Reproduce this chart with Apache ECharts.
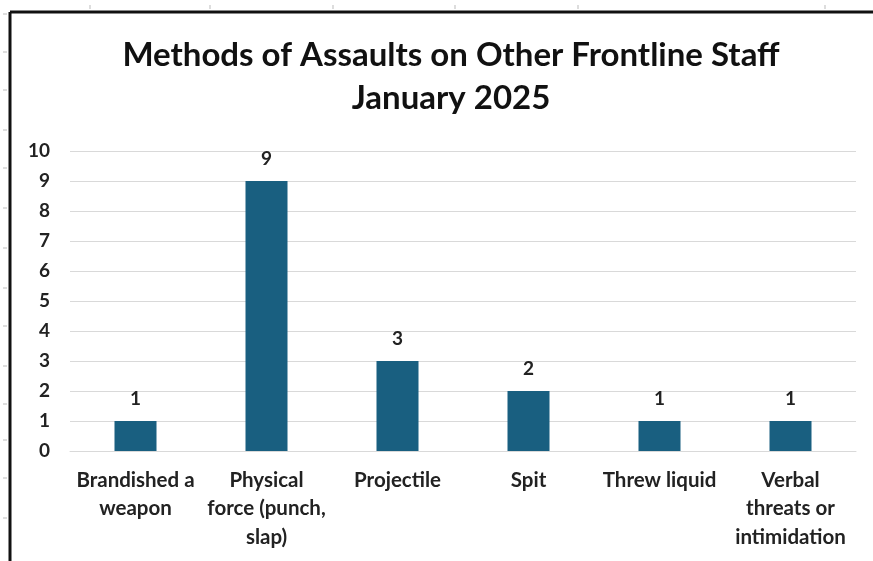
<!DOCTYPE html>
<html><head><meta charset="utf-8">
<script src="https://cdn.jsdelivr.net/npm/echarts@6/dist/echarts.min.js"></script>
<style>html,body{margin:0;padding:0;background:#fff;}#c{width:873px;height:561px;}</style>
</head><body><div id="c"></div>
<script>
const categories = ["Brandished a\nweapon", "Physical\nforce (punch,\nslap)", "Projectile", "Spit", "Threw liquid", "Verbal\nthreats or\nintimidation"];
const values = [1, 9, 3, 2, 1, 1];
const titleLines = ["Methods of Assaults on Other Frontline Staff", "January 2025"];
const yMin = 0, yMax = 10, yStep = 1;

const FONT = 'Lato, "Noto Sans", sans-serif';
const chart = echarts.init(document.getElementById('c'), null, {renderer: 'canvas'});
const ticksLeft = [14, 52, 90, 130, 168, 208, 248, 288, 326, 366, 404, 440, 478, 518];
const ticksTop = [90, 210, 333, 455, 578, 825];
const graphics = [
  {type: 'line', shape: {x1: 10, y1: 12, x2: 873, y2: 12}, style: {stroke: '#111', lineWidth: 3}, z: 10},
  {type: 'line', shape: {x1: 10, y1: 12, x2: 10, y2: 561}, style: {stroke: '#111', lineWidth: 3}, z: 10}
];
ticksLeft.forEach(y => graphics.push({type: 'line', shape: {x1: 3, y1: y, x2: 7, y2: y}, style: {stroke: '#bbb', lineWidth: 1}}));
ticksTop.forEach(x => graphics.push({type: 'line', shape: {x1: x, y1: 5, x2: x, y2: 9}, style: {stroke: '#bbb', lineWidth: 1}}));

chart.setOption({
  animation: false,
  backgroundColor: '#fff',
  title: {
    text: titleLines.join('\n'),
    left: 446, top: 29, textAlign: 'center',
    textStyle: {fontFamily: FONT, fontWeight: 'bold', fontSize: 33, color: '#111', lineHeight: 43}
  },
  graphic: graphics,
  grid: {left: 70, right: 17, top: 151, bottom: 110, containLabel: false},
  xAxis: {
    type: 'category', data: categories,
    axisLine: {show: true, lineStyle: {color: '#d9d9d9', width: 1}},
    axisTick: {show: false},
    axisLabel: {interval: 0, margin: 15, fontFamily: FONT, fontWeight: 'bold', fontSize: 20.5, color: '#222', lineHeight: 28.5}
  },
  yAxis: {
    type: 'value', min: yMin, max: yMax, interval: yStep,
    axisLine: {show: false}, axisTick: {show: false},
    splitLine: {lineStyle: {color: '#d9d9d9', width: 1}},
    axisLabel: {margin: 20, fontFamily: FONT, fontWeight: 'bold', fontSize: 19, color: '#222'}
  },
  series: [{
    type: 'bar', data: values, barWidth: 42,
    itemStyle: {color: '#195f80'},
    label: {show: true, position: 'top', distance: 13, fontFamily: FONT, fontWeight: 'bold', fontSize: 19, color: '#222'}
  }]
});
</script></body></html>
